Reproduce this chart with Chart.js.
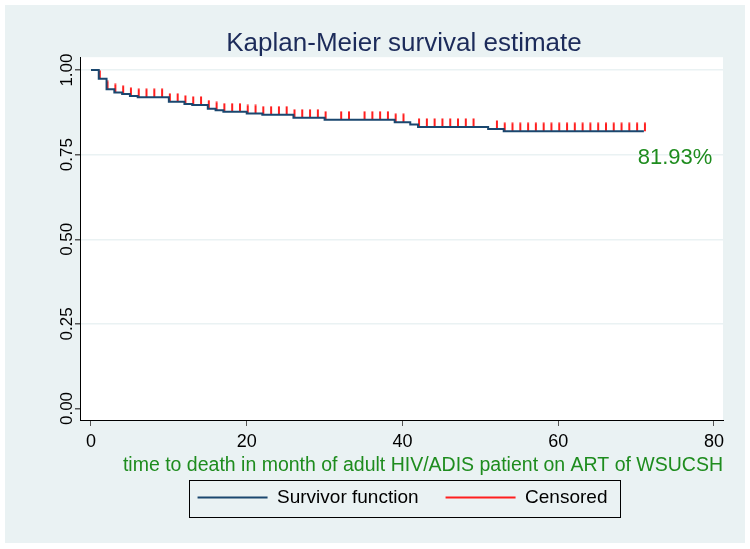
<!DOCTYPE html>
<html><head><meta charset="utf-8">
<script src="https://cdn.jsdelivr.net/npm/chart.js@4.4.1/dist/chart.umd.min.js"></script>
<style>html,body{margin:0;padding:0;background:#fff;overflow:hidden}#wrap{position:absolute;left:0;top:0;width:750px;height:549px}</style>
</head><body><div id="wrap"><canvas id="c" width="750" height="549"></canvas></div>
<script>
// ---- data ----
const eventTimes = [0, 1, 2, 3, 4, 5, 6, 10, 12, 13, 15, 16, 17, 20, 22, 26, 30, 39, 41, 42, 51, 53, 71];
const survival   = [1, 0.974, 0.943, 0.934, 0.929, 0.923, 0.920, 0.906, 0.900, 0.897, 0.886, 0.881, 0.877, 0.872, 0.868, 0.859, 0.853, 0.846, 0.839, 0.832, 0.826, 0.8193, 0.8193];
const censorTimes = [1,2,3,4,5,6,7,8,9,10,11,12,13,14,15,16,17,18,19,20,21,22,23,24,25,26,27,28,29,30,
  32,33,35,36,37,38,39,40,42,43,44,45,46,47,48,49,52,53,54,55,56,57,58,59,60,61,62,63,64,65,66,67,68,69,70,71];
const yTicks = [0, 0.25, 0.5, 0.75, 1];
const xTicks = [0, 20, 40, 60, 80];
const seriesNames = ['Survivor function', 'Censored'];
const finalText = '81.93%';
const finalTextPos = {x: 75, y: 0.74};

const FONT = "'Liberation Sans', Arial, sans-serif";
const NAVY = '#1a476f', RED = '#ff1f1f', GREEN = '#1e8c1e', BG = '#eaf2f3';

function survAt(t) {
  let s = survival[0];
  for (let i = 0; i < eventTimes.length; i++) if (eventTimes[i] <= t) s = survival[i];
  return s;
}
const kmData = eventTimes.map((t, i) => ({x: t, y: survival[i]}));
const censorData = censorTimes.map(t => ({x: t, y: survAt(t)}));

// censor spike marker: short red spike rising from the curve
const spike = document.createElement('canvas');
spike.width = 6; spike.height = 18;
(function(){ const g = spike.getContext('2d'); g.fillStyle = RED; g.fillRect(3, 0.5, 2, 8.5); })();

const bgPlugin = {
  id: 'bg',
  beforeDraw(chart) {
    const {ctx, chartArea: a} = chart;
    ctx.save();
    ctx.fillStyle = '#fff'; ctx.fillRect(0, 0, chart.width, chart.height);
    ctx.fillStyle = BG; ctx.fillRect(5, 5, 740, 538);
    ctx.fillStyle = '#fff'; ctx.fillRect(a.left, a.top, a.right - a.left, a.bottom - a.top);
    ctx.restore();
  },
  afterLayout(chart) {
    const a = chart.chartArea; const c = (a.left + a.right) / 2;
    const shift = (b, target) => { if (!b) return; const d = target - (b.left + b.right) / 2; b.left += d; b.right += d; };
    shift(chart.titleBlock, c + 2.5);
    if (chart.titleBlock) { chart.titleBlock.top += 2; chart.titleBlock.bottom += 2; }
    shift(chart.legend, c + 1);
    if (chart.legend) { chart.legend.top -= 17; chart.legend.bottom -= 17; }
  },
  afterDraw(chart) {
    const {ctx} = chart; const lg = chart.legend; if (!lg || !lg.lineWidths) return;
    const pad = lg.options.labels.padding;
    const x0 = (lg.left + pad + lg.right - lg.lineWidths[0]) / 2;
    const x1 = x0 + lg.lineWidths[0] - pad;
    ctx.save(); ctx.strokeStyle = '#000'; ctx.lineWidth = 1;
    ctx.strokeRect(Math.round(x0 - 9) + 0.5, 480.5, Math.round(x1 - x0 + 21), 37);
    ctx.restore();
  },
  afterDatasetsDraw(chart) {
    const {ctx, scales: {x, y}} = chart;
    ctx.save(); ctx.fillStyle = GREEN; ctx.font = '22px ' + FONT;
    ctx.textAlign = 'center'; ctx.textBaseline = 'middle';
    ctx.fillText(finalText, x.getPixelForValue(finalTextPos.x), y.getPixelForValue(finalTextPos.y));
    ctx.restore();
  }
};

new Chart(document.getElementById('c'), {
  type: 'line',
  data: {
    datasets: [
      {label: seriesNames[0], data: kmData, stepped: true, borderColor: NAVY, borderWidth: 2, pointRadius: 0, fill: false},
      {label: seriesNames[1], data: censorData, showLine: false, pointStyle: spike, pointRadius: 9, borderColor: RED, backgroundColor: RED}
    ]
  },
  options: {
    responsive: false, animation: false, devicePixelRatio: 1,
    layout: {padding: {top: 5, left: 0, right: 27, bottom: 15}},
    plugins: {
      tooltip: {enabled: false},
      title: {display: true, text: 'Kaplan-Meier survival estimate', color: '#1c2b5a',
        font: {family: FONT, size: 26, weight: 'normal'}, padding: {top: 21, bottom: 0}},
      legend: {position: 'bottom',
        labels: {boxWidth: 70, boxHeight: 2, padding: 27, color: '#000', font: {family: FONT, size: 19},
          generateLabels: () => [
            {text: seriesNames[0], fillStyle: NAVY, strokeStyle: NAVY, lineWidth: 0, hidden: false, datasetIndex: 0, fontColor: '#000'},
            {text: seriesNames[1], fillStyle: RED, strokeStyle: RED, lineWidth: 0, hidden: false, datasetIndex: 1, fontColor: '#000'}
          ]}}
    },
    scales: {
      x: {type: 'linear', min: -1.41, max: 81.16,
        afterBuildTicks: s => { s.ticks = xTicks.map(v => ({value: v})); },
        afterFit: s => { s.height = 58; },
        ticks: {font: {family: FONT, size: 18}, color: '#000', padding: 5, maxRotation: 0, autoSkip: false},
        grid: {drawOnChartArea: false, tickLength: 6, tickColor: '#555'},
        border: {color: '#000', width: 1},
        title: {display: true, align: 'end', text: 'time to death in month of adult HIV/ADIS patient on ART of WSUCSH', color: GREEN,
          font: {family: FONT, size: 19.5}, padding: {top: 0, bottom: 1}}
      },
      y: {type: 'linear', min: -0.034, max: 1.038,
        afterBuildTicks: s => { s.ticks = yTicks.map(v => ({value: v})); },
        afterFit: s => { s.width = 80; },
        ticks: {callback: v => Number(v).toFixed(2), minRotation: 90, maxRotation: 90, crossAlign: 'center', padding: -9,
          font: {family: FONT, size: 17}, color: '#000', autoSkip: false},
        grid: {color: c => (c.tick && c.tick.value === 0) ? 'rgba(0,0,0,0)' : BG, lineWidth: 1.5, tickLength: 5, tickColor: '#555'},
        border: {color: '#000', width: 1}
      }
    }
  },
  plugins: [bgPlugin]
});
</script></body></html>
